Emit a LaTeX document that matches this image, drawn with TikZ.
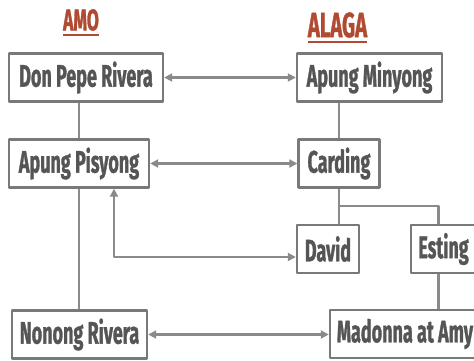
\documentclass[tikz,border=0pt]{standalone}
\usepackage{fontspec}
\usetikzlibrary{arrows.meta,calc}
\newfontfamily\namefont[FakeStretch=0.58,FakeBold=1]{Fira Sans}
\definecolor{boxgray}{HTML}{797979}
\definecolor{txtgray}{HTML}{555555}
\definecolor{linkgray}{HTML}{8A8A8A}
\definecolor{titlered}{HTML}{B04A30}
\tikzset{
	person/.style={draw=boxgray, line width=2.4pt, fill=white, inner sep=0pt,
		minimum height=48pt, text=txtgray,
		font=\namefont\bfseries\fontsize{31}{31}\selectfont},
	link/.style={draw=linkgray, line width=2.4pt},
	heading/.style={inner sep=0pt, text=titlered}
}
\begin{document}
\begin{tikzpicture}[x=1pt, y=-1pt, line join=round, >={Triangle[length=8pt,width=8pt]}]
		\def\W{474} \def\H{360}
		\useasboundingbox (0,0) rectangle (\W,\H);
		\clip (0,0) rectangle (\W,\H);
		% headings
		\node[heading, font=\namefont\bfseries\fontsize{30}{30}\selectfont] (amo) at (81,20) {AMO};
		\node[heading, font=\namefont\bfseries\fontsize{35}{35}\selectfont] (alaga) at (337.5,25) {ALAGA};
		\draw[titlered, line width=2pt] ([yshift=-5pt]amo.base west) -- ([yshift=-5pt]amo.base east);
		\draw[titlered, line width=2pt] ([yshift=-5pt]alaga.base west) -- ([yshift=-5pt]alaga.base east);
		% amo column
		\node[person, minimum width=154pt] (dpr) at (86,77.5) {Don Pepe Rivera};
		\node[person, minimum width=140pt] (aps) at (79,163.5) {Apung Pisyong};
		\node[person, minimum width=135pt] (nnr) at (79.5,334.5) {Nonong Rivera};
		% alaga column
		\node[person, minimum width=145pt] (apm) at (369.5,77.5) {Apung Minyong};
		\node[person, minimum width=81pt] (car) at (339,163.5) {Carding};
		\node[person, minimum width=62pt] (dav) at (328,249) {David};
		\node[person, minimum width=65pt] (est) at (443.5,249) {Esting};
		\node[person, minimum width=150pt] (mad) at (405,334) {Madonna at Amy};
		\coordinate (fork) at ($(car.south)+(0,17)$);
		% lines of descent
		\draw[link] (dpr.south -| aps.north) -- (aps.north);
		\draw[link] (aps.south) -- (aps.south |- nnr.north);
		\draw[link] (apm.south -| car.north) -- (car.north);
		\draw[link] (car.south) -- (car.south |- dav.north);
		\draw[link] (fork) -| ([xshift=-5pt]est.north);
		\draw[link] ([xshift=-5pt]est.south) -- ([xshift=-5pt]est.south |- mad.north);
		% amo <-> alaga
		\draw[link,<->] (dpr.east) -- (dpr.east -| apm.west);
		\draw[link,<->] (aps.east) -- (aps.east -| car.west);
		\draw[link,<->] ([xshift=35pt]aps.south) |- ([yshift=-8pt]dav.west);
		\draw[link,<->] (nnr.east) -- (nnr.east -| mad.west);
	\end{tikzpicture}
\end{document}
